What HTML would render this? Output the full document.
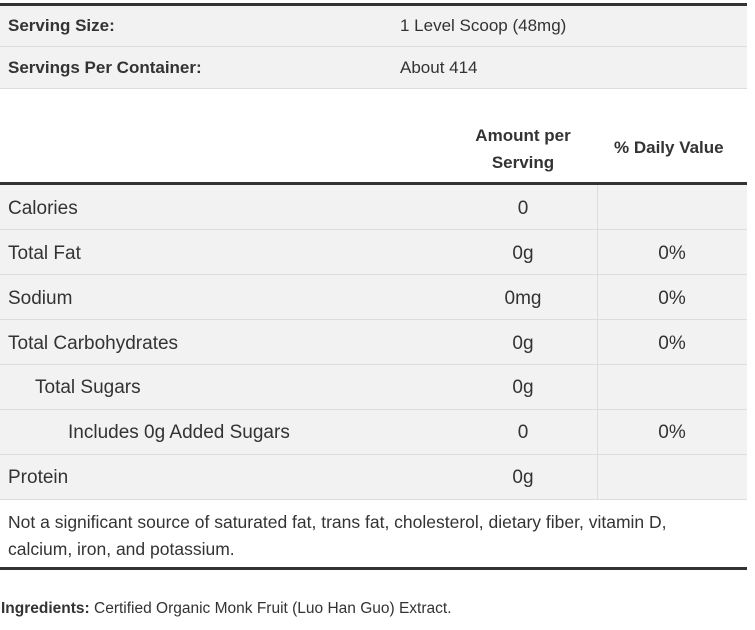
<!DOCTYPE html>
<html><head><style>
body{margin:0;width:755px;height:630px;background:#fff;font-family:"Liberation Sans",sans-serif;color:#333;position:relative;overflow:hidden}
.a{position:absolute}
.row{position:absolute;left:0;width:747px;background:#f2f2f2;border-bottom:1px solid #ddd}
.t{position:absolute;white-space:nowrap}
.b{font-weight:bold;font-size:16px;color:#333}
.r{font-size:19px}
.c{text-align:center}
</style></head><body>
<div class="a" style="left:0;top:3px;width:747px;height:3px;background:#333"></div>
<div class="row" style="top:6px;height:40px"></div>
<div class="row" style="top:47px;height:41px"></div>
<div class="t b" style="left:8px;top:16px;font-size:17px">Serving Size:</div>
<div class="t" style="left:400px;top:16px;font-size:17px">1 Level Scoop (48mg)</div>
<div class="t b" style="left:8px;top:58px;font-size:17px">Servings Per Container:</div>
<div class="t" style="left:400px;top:58px;font-size:17px">About 414</div>
<div class="t b c" style="left:463px;width:120px;top:122px;line-height:27px;font-size:17px">Amount per<br>Serving</div>
<div class="t b" style="left:614px;top:138px;font-size:17px">% Daily Value</div>
<div class="a" style="left:0;top:182px;width:747px;height:3px;background:#333"></div>
<div class="row" style="top:185px;height:44px"></div>
<div class="row" style="top:230px;height:44px"></div>
<div class="row" style="top:275px;height:44px"></div>
<div class="row" style="top:320px;height:44px"></div>
<div class="row" style="top:365px;height:44px"></div>
<div class="row" style="top:410px;height:44px"></div>
<div class="row" style="top:455px;height:44px"></div>
<div class="a" style="left:597px;top:185px;width:1px;height:314px;background:#ddd"></div>
<div class="t r" style="left:8px;top:198px">Calories</div>
<div class="t r c" style="left:463px;width:120px;top:198px">0</div>
<div class="t r" style="left:8px;top:243px">Total Fat</div>
<div class="t r c" style="left:463px;width:120px;top:243px">0g</div>
<div class="t r c" style="left:612px;width:120px;top:243px">0%</div>
<div class="t r" style="left:8px;top:288px">Sodium</div>
<div class="t r c" style="left:463px;width:120px;top:288px">0mg</div>
<div class="t r c" style="left:612px;width:120px;top:288px">0%</div>
<div class="t r" style="left:8px;top:333px">Total Carbohydrates</div>
<div class="t r c" style="left:463px;width:120px;top:333px">0g</div>
<div class="t r c" style="left:612px;width:120px;top:333px">0%</div>
<div class="t r" style="left:35px;top:377px">Total Sugars</div>
<div class="t r c" style="left:463px;width:120px;top:377px">0g</div>
<div class="t r" style="left:68px;top:422px">Includes 0g Added Sugars</div>
<div class="t r c" style="left:463px;width:120px;top:422px">0</div>
<div class="t r c" style="left:612px;width:120px;top:422px">0%</div>
<div class="t r" style="left:8px;top:467px">Protein</div>
<div class="t r c" style="left:463px;width:120px;top:467px">0g</div>
<div class="t" style="left:8px;top:509px;font-size:17.5px;line-height:27px">Not a significant source of saturated fat, trans fat, cholesterol, dietary fiber, vitamin D,<br>calcium, iron, and potassium.</div>
<div class="a" style="left:0;top:567px;width:747px;height:3px;background:#333"></div>
<div class="t" style="left:1px;top:600px;font-size:15.5px"><b>Ingredients:</b> Certified Organic Monk Fruit (Luo Han Guo) Extract.</div>
</body></html>
